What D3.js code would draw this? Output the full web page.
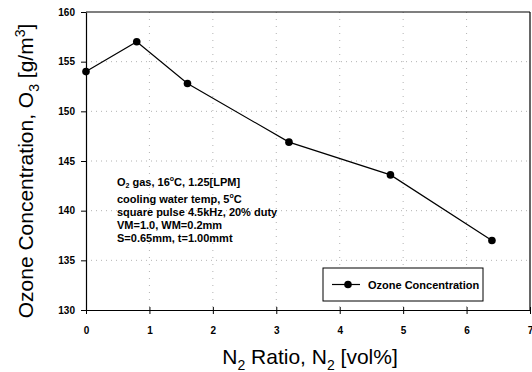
<!DOCTYPE html>
<html>
<head>
<meta charset="utf-8">
<script src="https://cdn.jsdelivr.net/npm/d3@7"></script>
<style>
  body { margin: 0; background: #fff; }
  svg { display: block; font-family: Arial, "Liberation Sans", sans-serif; }
</style>
</head>
<body>
<div id="chart"></div>
<script>
// data
var n2Ratio = [0, 0.8, 1.6, 3.2, 4.8, 6.4];
var ozoneConc = [154.0, 157.0, 152.8, 146.9, 143.6, 137.0];
var xTicks = [0, 1, 2, 3, 4, 5, 6, 7];
var yTicks = [130, 135, 140, 145, 150, 155, 160];
var noteLines = [
    ["O", "2", " gas, 16", "o", "C, 1.25[LPM]"],
    ["cooling water temp, 5", "o", "C"],
    ["square pulse 4.5kHz, 20% duty"],
    ["VM=1.0, WM=0.2mm"],
    ["S=0.65mm, t=1.00mmt"]
];
var legendLabel = "Ozone Concentration";

var width = 532, height = 372;
var margins = {left: 86, right: 2, top: 12, bottom: 62};
var w = width - margins.left - margins.right,
    h = height - margins.top - margins.bottom;

var svg = d3.select("#chart").append("svg")
    .attr("width", width)
    .attr("height", height);
var g = svg.append("g")
    .attr("transform", "translate(" + margins.left + "," + margins.top + ")");

var x = d3.scaleLinear().domain([0, 7]).range([0, w]);
var y = d3.scaleLinear().domain([130, 160]).range([h, 0]);

// dotted grid
g.selectAll(".gy").data(yTicks.slice(1, -1)).enter().append("line")
    .attr("x1", 0).attr("x2", w)
    .attr("y1", function(d) { return y(d); }).attr("y2", function(d) { return y(d); })
    .attr("stroke", "#a0a0a0").attr("stroke-width", 0.8)
    .attr("stroke-dasharray", "1,4");
g.selectAll(".gx").data(xTicks.slice(1, -1)).enter().append("line")
    .attr("y1", 0).attr("y2", h)
    .attr("x1", function(d) { return x(d); }).attr("x2", function(d) { return x(d); })
    .attr("stroke", "#a0a0a0").attr("stroke-width", 0.8)
    .attr("stroke-dasharray", "1,6");

// frame top/right
g.append("line").attr("x1", 0).attr("x2", w).attr("y1", 0).attr("y2", 0)
    .attr("stroke", "#000").attr("stroke-width", 1.2);
g.append("line").attr("x1", w).attr("x2", w).attr("y1", 0).attr("y2", h)
    .attr("stroke", "#000").attr("stroke-width", 1.2);

// axes
var xAxis = g.append("g")
    .attr("transform", "translate(0," + h + ")")
    .call(d3.axisBottom(x).tickValues(xTicks).tickFormat(d3.format("d")).tickSizeInner(4).tickSizeOuter(0));
var yAxis = g.append("g")
    .call(d3.axisLeft(y).tickValues(yTicks).tickFormat(d3.format("d")).tickSizeInner(5).tickSizeOuter(0));
[xAxis, yAxis].forEach(function(a) {
    a.select(".domain").attr("stroke", "#000").attr("stroke-width", 1.2);
    a.selectAll(".tick line").attr("stroke", "#000");
    a.selectAll("text").attr("fill", "#000")
        .style("font-size", "10px").style("font-weight", "bold")
        .style("font-family", "Arial, 'Liberation Sans', sans-serif");
});
xAxis.selectAll(".tick line").attr("y1", -3);
xAxis.selectAll("text").attr("dy", "1.65em");
yAxis.selectAll("text").attr("dx", "-3px");

// series
var pts = n2Ratio.map(function(d, i) { return [d, ozoneConc[i]]; });
g.append("path").datum(pts)
    .attr("fill", "none").attr("stroke", "#000").attr("stroke-width", 1.2)
    .attr("d", d3.line().x(function(d) { return x(d[0]); }).y(function(d) { return y(d[1]); }));
g.selectAll(".pt").data(pts).enter().append("circle")
    .attr("cx", function(d) { return x(d[0]); })
    .attr("cy", function(d) { return y(d[1]); })
    .attr("r", 3.8).attr("fill", "#000");

// annotation
var note = g.append("text")
    .attr("font-size", "11px").attr("font-weight", "bold")
    .attr("letter-spacing", "0px");
var noteY = [186, 203, 216, 229, 242];
noteLines.forEach(function(parts, li) {
    var t = note.append("tspan").attr("x", 117 - margins.left)
        .attr("y", noteY[li] - margins.top);
    parts.forEach(function(p, pi) {
        var s = t.append("tspan").text(p);
        if (p === "2" && pi === 1) s.attr("font-size", "7px").attr("dy", "2");
        else if (p === "o") s.attr("font-size", "7px").attr("dy", parts[pi - 1] === "2" ? "-7" : "-5");
        else if (pi > 0 && parts[pi - 1] === "o") s.attr("dy", "5");
        else if (pi > 0 && parts[pi - 1] === "2") s.attr("dy", "-2");
    });
});

// legend
var lg = g.append("g").attr("transform", "translate(" + (323 - margins.left) + "," + (268 - margins.top) + ")");
lg.append("rect").attr("width", 160).attr("height", 33)
    .attr("fill", "#fff").attr("stroke", "#000").attr("stroke-width", 1);
lg.append("line").attr("x1", 9).attr("x2", 37).attr("y1", 16.5).attr("y2", 16.5)
    .attr("stroke", "#000").attr("stroke-width", 1.2);
lg.append("circle").attr("cx", 25).attr("cy", 16.5).attr("r", 3.8).attr("fill", "#000");
lg.append("text").attr("x", 45).attr("y", 20.5)
    .attr("font-size", "11px").attr("font-weight", "bold").text(legendLabel);

// axis titles
var xt = svg.append("text").attr("text-anchor", "middle")
    .attr("x", 310).attr("y", 364).attr("font-size", "21px");
xt.append("tspan").text("N");
xt.append("tspan").text("2").attr("font-size", "14px").attr("dy", 6);
xt.append("tspan").text(" Ratio, N").attr("dy", -6);
xt.append("tspan").text("2").attr("font-size", "14px").attr("dy", 6);
xt.append("tspan").text(" [vol%]").attr("dy", -6);

var yt = svg.append("text").attr("text-anchor", "middle")
    .attr("transform", "translate(33,171) rotate(-90)").attr("font-size", "21px");
yt.append("tspan").text("Ozone Concentration, O");
yt.append("tspan").text("3").attr("font-size", "14px").attr("dy", 6);
yt.append("tspan").text(" [g/m").attr("dy", -6);
yt.append("tspan").text("3").attr("font-size", "14px").attr("dy", -8);
yt.append("tspan").text("]").attr("dy", 8);
</script>
</body>
</html>
